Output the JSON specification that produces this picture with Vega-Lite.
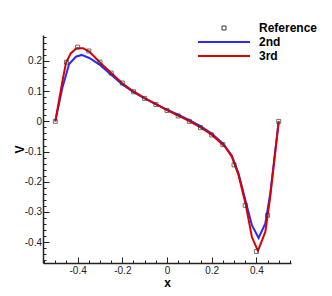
{
  "$schema": "https://vega.github.io/schema/vega-lite/v6.json",
  "autosize": "none",
  "width": 248,
  "height": 228,
  "padding": {"left": 43, "top": 35, "right": 41, "bottom": 33},
  "background": "white",
  "config": {"view": {"stroke": null}, "font": "Liberation Sans"},
  "data": {
    "values": [
      {"x": -0.5, "y": 0, "s": "Reference"},
      {"x": -0.45, "y": 0.196, "s": "Reference"},
      {"x": -0.4, "y": 0.246, "s": "Reference"},
      {"x": -0.35, "y": 0.233, "s": "Reference"},
      {"x": -0.3, "y": 0.196, "s": "Reference"},
      {"x": -0.25, "y": 0.16, "s": "Reference"},
      {"x": -0.2, "y": 0.127, "s": "Reference"},
      {"x": -0.15, "y": 0.098, "s": "Reference"},
      {"x": -0.1, "y": 0.076, "s": "Reference"},
      {"x": -0.05, "y": 0.056, "s": "Reference"},
      {"x": 0, "y": 0.036, "s": "Reference"},
      {"x": 0.05, "y": 0.018, "s": "Reference"},
      {"x": 0.1, "y": 0.0, "s": "Reference"},
      {"x": 0.15, "y": -0.021, "s": "Reference"},
      {"x": 0.2, "y": -0.045, "s": "Reference"},
      {"x": 0.25, "y": -0.077, "s": "Reference"},
      {"x": 0.3, "y": -0.144, "s": "Reference"},
      {"x": 0.35, "y": -0.278, "s": "Reference"},
      {"x": 0.4, "y": -0.431, "s": "Reference"},
      {"x": 0.45, "y": -0.311, "s": "Reference"},
      {"x": 0.5, "y": 0.0, "s": "Reference"},

      {"x": -0.5, "y": 0, "s": "2nd"},
      {"x": -0.467, "y": 0.115, "s": "2nd"},
      {"x": -0.438, "y": 0.19, "s": "2nd"},
      {"x": -0.408, "y": 0.214, "s": "2nd"},
      {"x": -0.382, "y": 0.22, "s": "2nd"},
      {"x": -0.348, "y": 0.21, "s": "2nd"},
      {"x": -0.3, "y": 0.187, "s": "2nd"},
      {"x": -0.25, "y": 0.154, "s": "2nd"},
      {"x": -0.2, "y": 0.122, "s": "2nd"},
      {"x": -0.15, "y": 0.097, "s": "2nd"},
      {"x": -0.1, "y": 0.076, "s": "2nd"},
      {"x": -0.05, "y": 0.057, "s": "2nd"},
      {"x": 0, "y": 0.039, "s": "2nd"},
      {"x": 0.05, "y": 0.022, "s": "2nd"},
      {"x": 0.1, "y": 0.004, "s": "2nd"},
      {"x": 0.15, "y": -0.016, "s": "2nd"},
      {"x": 0.2, "y": -0.04, "s": "2nd"},
      {"x": 0.25, "y": -0.073, "s": "2nd"},
      {"x": 0.29, "y": -0.113, "s": "2nd"},
      {"x": 0.32, "y": -0.172, "s": "2nd"},
      {"x": 0.353, "y": -0.267, "s": "2nd"},
      {"x": 0.38, "y": -0.344, "s": "2nd"},
      {"x": 0.41, "y": -0.386, "s": "2nd"},
      {"x": 0.44, "y": -0.338, "s": "2nd"},
      {"x": 0.462, "y": -0.239, "s": "2nd"},
      {"x": 0.5, "y": 0, "s": "2nd"},

      {"x": -0.5, "y": 0, "s": "3rd"},
      {"x": -0.467, "y": 0.137, "s": "3rd"},
      {"x": -0.452, "y": 0.194, "s": "3rd"},
      {"x": -0.431, "y": 0.225, "s": "3rd"},
      {"x": -0.405, "y": 0.242, "s": "3rd"},
      {"x": -0.375, "y": 0.242, "s": "3rd"},
      {"x": -0.348, "y": 0.231, "s": "3rd"},
      {"x": -0.3, "y": 0.195, "s": "3rd"},
      {"x": -0.25, "y": 0.16, "s": "3rd"},
      {"x": -0.2, "y": 0.126, "s": "3rd"},
      {"x": -0.15, "y": 0.099, "s": "3rd"},
      {"x": -0.1, "y": 0.077, "s": "3rd"},
      {"x": -0.05, "y": 0.057, "s": "3rd"},
      {"x": 0, "y": 0.037, "s": "3rd"},
      {"x": 0.05, "y": 0.019, "s": "3rd"},
      {"x": 0.1, "y": 0.001, "s": "3rd"},
      {"x": 0.15, "y": -0.02, "s": "3rd"},
      {"x": 0.2, "y": -0.044, "s": "3rd"},
      {"x": 0.26, "y": -0.084, "s": "3rd"},
      {"x": 0.29, "y": -0.117, "s": "3rd"},
      {"x": 0.32, "y": -0.178, "s": "3rd"},
      {"x": 0.353, "y": -0.278, "s": "3rd"},
      {"x": 0.38, "y": -0.383, "s": "3rd"},
      {"x": 0.407, "y": -0.429, "s": "3rd"},
      {"x": 0.44, "y": -0.366, "s": "3rd"},
      {"x": 0.462, "y": -0.25, "s": "3rd"},
      {"x": 0.5, "y": 0, "s": "3rd"}
    ]
  },
  "encoding": {
    "x": {
      "field": "x", "type": "quantitative",
      "scale": {"domain": [-0.555, 0.555], "nice": false, "zero": false},
      "axis": {
        "title": "x", "titleFontWeight": "bold", "titleFontSize": 12, "titleColor": "black", "titlePadding": 2,
        "grid": false,
        "values": [-0.55, -0.5, -0.45, -0.4, -0.35, -0.3, -0.25, -0.2, -0.15, -0.1, -0.05, 0, 0.05, 0.1, 0.15, 0.2, 0.25, 0.3, 0.35, 0.4, 0.45, 0.5, 0.55],
        "tickSize": {"condition": {"test": "abs(datum.value/0.2 - round(datum.value/0.2)) < 0.001", "value": -6}, "value": -3},
        "labelExpr": "abs(datum.value/0.2 - round(datum.value/0.2)) < 0.001 ? '' + datum.value : ''",
        "domainColor": "#222", "domainWidth": 1.5, "tickColor": "#222", "tickWidth": 1,
        "labelFontSize": 10, "labelColor": "#222", "labelPadding": 8, "labelBaseline": "top", "labelFlush": false
      }
    },
    "y": {
      "field": "y", "type": "quantitative",
      "scale": {"domain": [-0.469, 0.286], "nice": false, "zero": false},
      "axis": {
        "title": "V", "titleFontWeight": "bold", "titleFontSize": 12, "titleColor": "black", "titlePadding": -2,
        "grid": false,
        "values": [-0.46, -0.44, -0.42, -0.4, -0.38, -0.36, -0.34, -0.32, -0.3, -0.28, -0.26, -0.24, -0.22, -0.2, -0.18, -0.16, -0.14, -0.12, -0.1, -0.08, -0.06, -0.04, -0.02, 0, 0.02, 0.04, 0.06, 0.08, 0.1, 0.12, 0.14, 0.16, 0.18, 0.2, 0.22, 0.24, 0.26, 0.28],
        "tickSize": {"condition": {"test": "abs(datum.value*10 - round(datum.value*10)) < 0.001", "value": -6}, "value": -3},
        "labelExpr": "abs(datum.value*10 - round(datum.value*10)) < 0.001 ? '' + datum.value : ''",
        "domainColor": "#222", "domainWidth": 1.5, "tickColor": "#222", "tickWidth": 1,
        "labelFontSize": 10, "labelColor": "#222", "labelPadding": 7.5, "labelFlush": false
      }
    },
    "color": {
      "field": "s", "type": "nominal",
      "scale": {"domain": ["Reference", "2nd", "3rd"], "range": ["#333333", "#2b2bff", "#dd0000"]},
      "legend": {
        "title": null, "orient": "none", "legendX": 175, "legendY": -13, "padding": 0,
        "symbolType": "M-5.2,0H5.2", "symbolSize": 100, "symbolStrokeWidth": 2, "symbolFillColor": "transparent",
        "labelFont": "Liberation Sans", "labelFontWeight": "bold", "labelFontSize": 12, "labelColor": "black",
        "labelOffset": 29, "rowPadding": 2,
        "encode": {
          "symbols": {
            "update": {
              "shape": {"signal": "datum.value === 'Reference' ? 'square' : 'M-5.2,0H5.2'"},
              "size": {"signal": "datum.value === 'Reference' ? 16 : 100"},
              "strokeWidth": {"signal": "datum.value === 'Reference' ? 1 : 2"},
              "fill": {"value": "transparent"}
            }
          }
        }
      }
    }
  },
  "layer": [
    {
      "transform": [{"filter": "datum.s !== 'Reference'"}],
      "mark": {"type": "line", "strokeWidth": 2}
    },
    {
      "transform": [{"filter": "datum.s === 'Reference'"}],
      "mark": {"type": "point", "shape": "square", "filled": false, "size": 16, "strokeWidth": 1}
    }
  ]
}
